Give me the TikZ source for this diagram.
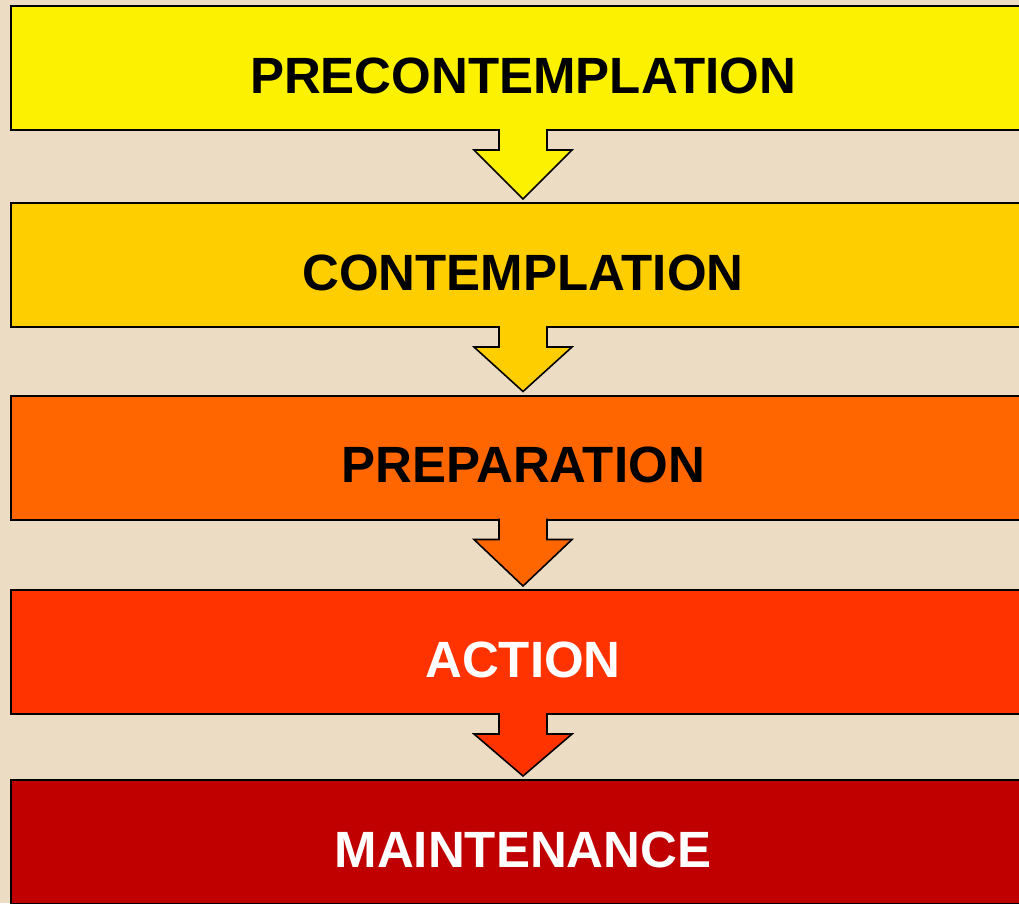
\documentclass[tikz,border=0pt]{standalone}
\usepackage{fontspec}
\setmainfont{Liberation Sans}
\usetikzlibrary{positioning,calc}

\definecolor{bgbeige}{RGB}{237,220,196}
\definecolor{precyellow}{RGB}{252,241,0}
\definecolor{contyellow}{RGB}{255,206,0}
\definecolor{preporange}{RGB}{255,102,0}
\definecolor{actred}{RGB}{255,51,0}
\definecolor{maintred}{RGB}{192,0,0}

\tikzset{
  stage/.style={draw=black, line width=2pt, minimum width=1024pt, minimum height=124pt,
    inner sep=0pt, text height=50pt, text depth=0pt,
    font=\fontsize{51}{60}\selectfont\bfseries},
  arrowline/.style={draw=black, line width=1.6pt, line join=miter},
}

% block arrow from one stage box down to the next
\newcommand{\stagearrow}[3]{%
  \fill[#3] ($(#1.south)+(-24,-3)$) -- ($(#1.south)+(-24,19)$) -- ($(#1.south)+(-49,19)$)
    -- ($(#2.north)+(0,-3)$) -- ($(#1.south)+(49,19)$) -- ($(#1.south)+(24,19)$) -- ($(#1.south)+(24,-3)$) -- cycle;
  \draw[arrowline] ($(#1.south)+(-24,-2)$) -- ($(#1.south)+(-24,19)$) -- ($(#1.south)+(-49,19)$)
    -- ($(#2.north)+(0,-3)$) -- ($(#1.south)+(49,19)$) -- ($(#1.south)+(24,19)$) -- ($(#1.south)+(24,-2)$);
}

\begin{document}
\begin{tikzpicture}[x=1pt, y=-1pt]
\useasboundingbox (0,0) rectangle (1019,903);
\fill[bgbeige] (0,0) rectangle (1019,903);
\clip (0,0) rectangle (1019,903);

\node[stage, fill=precyellow] (prec) at (523,68) {PRECONTEMPLATION};
\node[stage, fill=contyellow] (cont) at (523,265) {CONTEMPLATION};
\node[stage, fill=preporange] (prep) at (523,457.5) {PREPARATION};
\node[stage, fill=actred, text=white] (act) at (523,652) {ACTION};
\node[stage, fill=maintred, text=white] (maint) at (523,842) {MAINTENANCE};

\stagearrow{prec}{cont}{precyellow}
\stagearrow{cont}{prep}{contyellow}
\stagearrow{prep}{act}{preporange}
\stagearrow{act}{maint}{actred}
\end{tikzpicture}
\end{document}
